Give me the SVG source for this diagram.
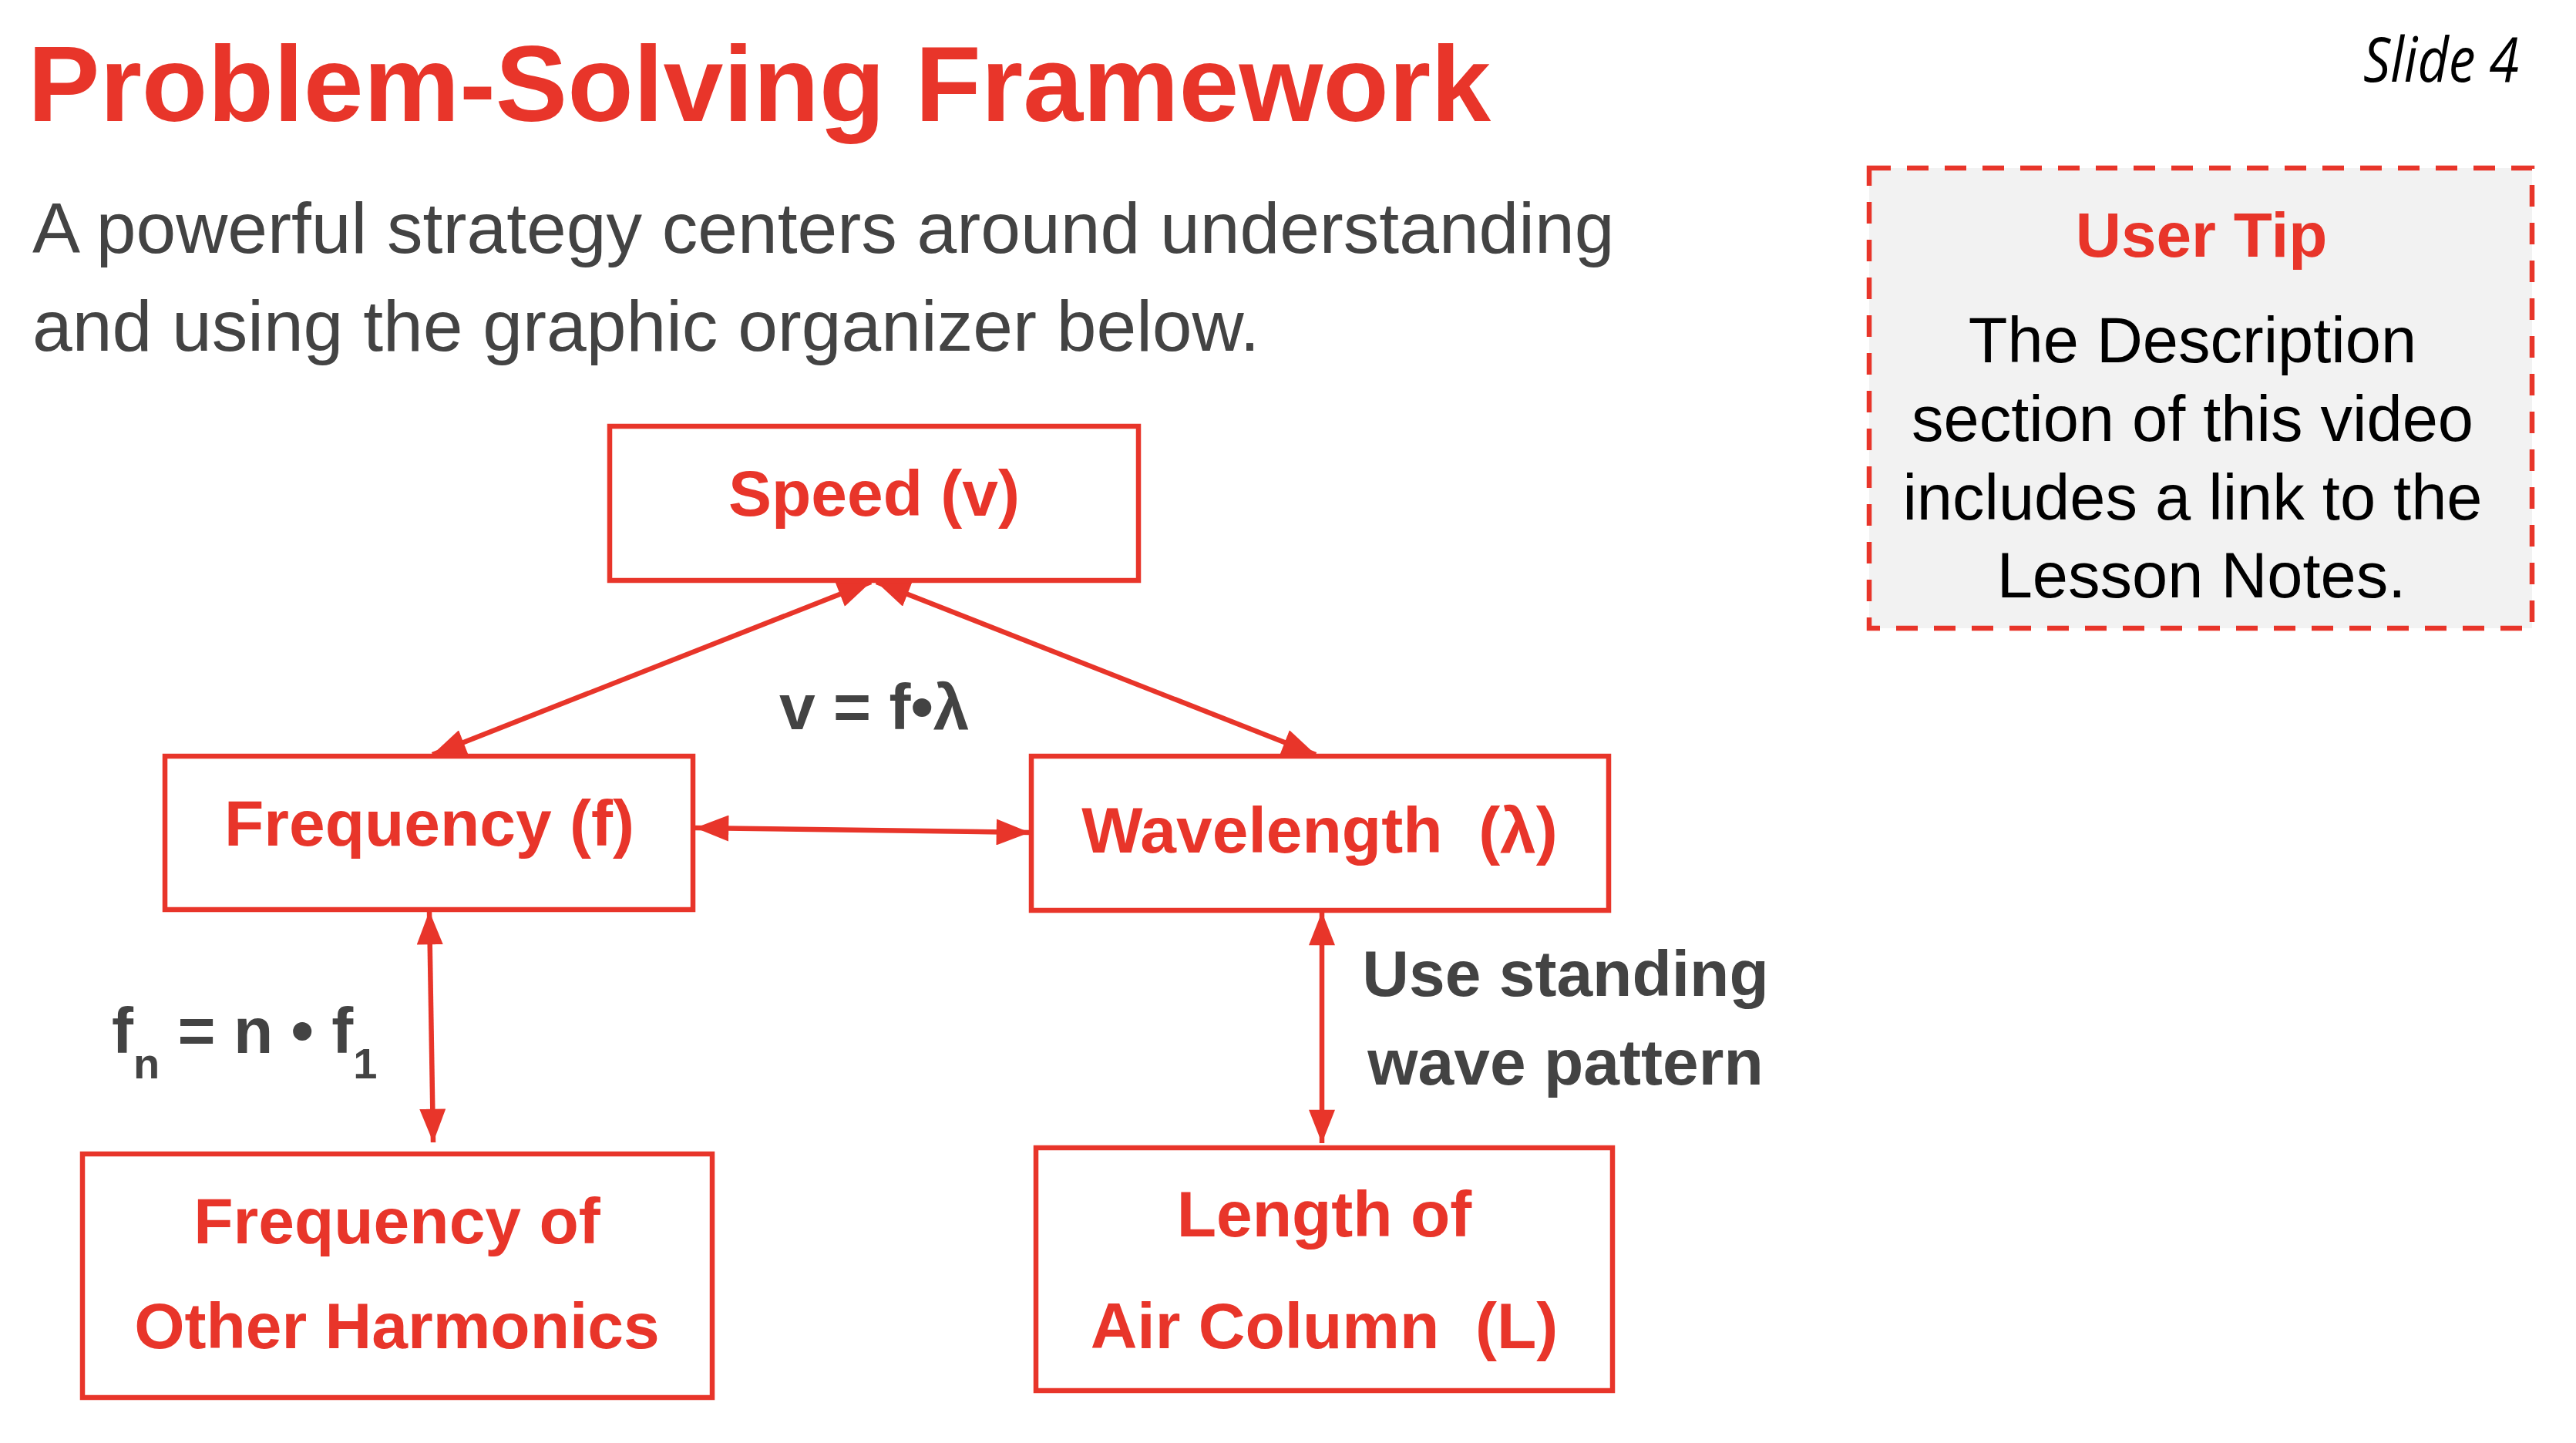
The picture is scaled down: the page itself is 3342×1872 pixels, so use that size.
<svg xmlns="http://www.w3.org/2000/svg" width="3342" height="1872" viewBox="0 0 3342 1872">
<style>
  .red { fill: #e8352a; }
  .grey { fill: #434343; }
  .sans { font-family: "Liberation Sans", Arial, sans-serif; }
  .b { font-weight: bold; }
  .box { fill: #ffffff; stroke: #e8352a; stroke-width: 6.5; }
  .lbl { font-family: "Liberation Sans", Arial, sans-serif; font-weight: bold; font-size: 84px; fill: #e8352a; text-anchor: middle; }
  .note { font-family: "Liberation Sans", Arial, sans-serif; font-weight: bold; font-size: 84px; fill: #434343; }
  .conn { stroke: #e8352a; stroke-width: 6.5; fill: none; marker-start: url(#ah); marker-end: url(#ah); }
</style>
<defs>
  <marker id="ah" markerUnits="userSpaceOnUse" markerWidth="44" markerHeight="34" viewBox="0 0 42 33" refX="42" refY="16.5" orient="auto-start-reverse">
    <path d="M0,0 L42,16.5 L0,33 z" fill="#e8352a"/>
  </marker>
</defs>
<rect x="0" y="0" width="3342" height="1872" fill="#ffffff"/>

<g id="title">
  <text x="36" y="157" class="sans b red" font-size="140">Problem-Solving Framework</text>
</g>
<g id="subtitle">
  <text x="42" y="328" class="sans grey" font-size="93">A powerful strategy centers around understanding</text>
  <text x="42" y="455" class="sans grey" font-size="93">and using the graphic organizer below.</text>
</g>
<g id="slide-number">
  <text x="3268" y="106" font-family="'Open Sans', 'Noto Sans', sans-serif" font-style="italic" font-size="80" fill="#000000" text-anchor="end" textLength="202" lengthAdjust="spacingAndGlyphs">Slide 4</text>
</g>

<g id="user-tip">
  <rect x="2425" y="218" width="860" height="597" fill="#f2f2f2" stroke="#e8352a" stroke-width="6.5" stroke-dasharray="28 21"/>
  <text x="2856" y="333" class="sans b red" font-size="82" text-anchor="middle">User Tip</text>
  <text class="sans" font-size="83" fill="#000000" text-anchor="middle">
    <tspan x="2856" y="470">The Description</tspan>
    <tspan x="2856" y="572">section of this video</tspan>
    <tspan x="2856" y="674">includes a link to the</tspan>
    <tspan x="2856" y="775">Lesson Notes.</tspan>
  </text>
</g>

<g id="connectors">
  <line class="conn" x1="561" y1="979" x2="1130" y2="755"/>
  <line class="conn" x1="1137" y1="755" x2="1707" y2="979"/>
  <line class="conn" x1="902" y1="1074" x2="1336" y2="1080"/>
  <line class="conn" x1="557" y1="1182" x2="562" y2="1482"/>
  <line class="conn" x1="1715" y1="1183" x2="1715" y2="1483"/>
</g>

<g id="node-speed">
  <rect class="box" x="791" y="553" width="686" height="200"/>
  <text class="lbl" x="1134" y="669">Speed (v)</text>
</g>
<g id="node-frequency">
  <rect class="box" x="214" y="981" width="685" height="199"/>
  <text class="lbl" x="557" y="1097">Frequency (f)</text>
</g>
<g id="node-wavelength">
  <rect class="box" x="1338" y="981" width="749" height="200"/>
  <text class="lbl" x="1712" y="1106">Wavelength&#160; (λ)</text>
</g>
<g id="node-harmonics">
  <rect class="box" x="107" y="1497" width="817" height="316"/>
  <text class="lbl" x="515" y="1613">Frequency of</text>
  <text class="lbl" x="515" y="1749">Other Harmonics</text>
</g>
<g id="node-length">
  <rect class="box" x="1344" y="1489" width="748" height="315"/>
  <text class="lbl" x="1718" y="1604">Length of</text>
  <text class="lbl" x="1718" y="1749">Air Column&#160; (L)</text>
</g>

<g id="labels">
  <text class="note" x="1011" y="946">v = f•λ</text>
  <text class="note" x="145" y="1366">f<tspan dy="33" font-size="56">n</tspan><tspan dy="-33"> = n • f</tspan><tspan dy="33" font-size="56">1</tspan></text>
  <text class="note" x="2031" y="1292" text-anchor="middle">Use standing</text>
  <text class="note" x="2031" y="1407" text-anchor="middle">wave pattern</text>
</g>
</svg>
